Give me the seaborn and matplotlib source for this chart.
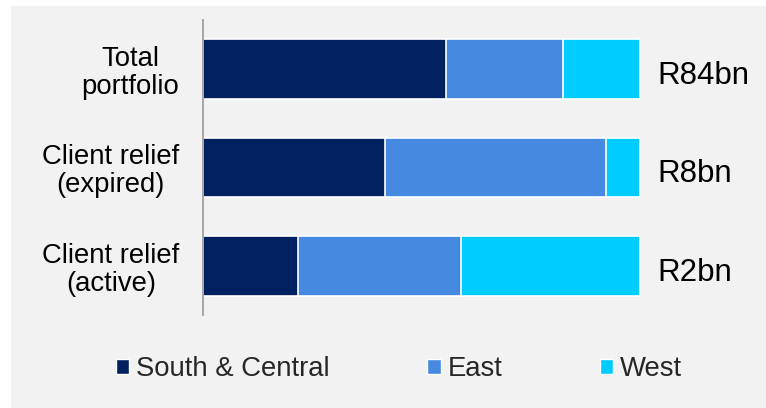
import matplotlib
matplotlib.use("Agg")
import matplotlib.pyplot as plt
from matplotlib.patches import Rectangle, Patch
import numpy as np
import pandas as pd
import seaborn as sns

# Share of each book by region (% of row total)
categories = ["Total\nportfolio", "Client relief\n(expired)", "Client relief\n(active)"]
south_central = [55.6, 41.6, 21.8]
east = [26.9, 50.6, 37.3]
west = [17.5, 7.8, 40.9]
totals = ["R84bn", "R8bn", "R2bn"]
series_names = ["South & Central", "East", "West"]
colors = ["#002060", "#4589E0", "#00CCFF"]

sns.set_theme(style="white")
plt.rcParams["font.family"] = ["Liberation Sans", "DejaVu Sans"]

panel_color = "#F2F2F2"
fig = plt.figure(figsize=(7.66, 4.08), dpi=100)
fig.patch.set_facecolor(panel_color)
# White margin along the left and top edges of the panel
for rect in [(0, 0, 11 / 766, 1), (0, 1 - 6 / 408, 1, 6 / 408)]:
    fig.patches.append(Rectangle(rect[:2], rect[2], rect[3], transform=fig.transFigure,
                                 facecolor="white", edgecolor="none", zorder=-10))

ax = fig.add_axes([203 / 766, 1 - 315 / 408, (639.7 - 203) / 766, (315 - 20) / 408])
ax.patch.set_alpha(0)

df = pd.DataFrame({"cat": categories, "s": south_central, "e": east, "w": west})
df["cum_se"] = df["s"] + df["e"]
df["cum_all"] = df["cum_se"] + df["w"]

# Stack by drawing cumulative totals from widest to narrowest
for col, color in zip(["cum_all", "cum_se", "s"], colors[::-1]):
    sns.barplot(data=df, x=col, y="cat", orient="h", color=color, width=0.61,
                edgecolor="white", linewidth=1.2, saturation=1, ax=ax)

ax.set_xlim(0, 100)
ax.set_ylim(2.5, -0.5)
ax.set_xlabel("")
ax.set_ylabel("")
ax.set_xticks([])
for s in ["top", "right", "bottom"]:
    ax.spines[s].set_visible(False)
ax.spines["left"].set_color("#A6A6A6")
ax.spines["left"].set_linewidth(1.4)
ax.tick_params(axis="y", length=0, pad=17, labelsize=19.8)
for lbl in ax.get_yticklabels():
    lbl.set_multialignment("center")
    lbl.set_linespacing(1.1)
    lbl.set_color("black")

for i, t in enumerate(totals):
    ax.text(104, i + 0.07, t, ha="left", va="center", fontsize=22.5,
            color="black", clip_on=False)

handles = [Patch(facecolor=c, edgecolor="white", linewidth=1.0) for c in colors]
fig.legend(handles, series_names, loc="center", bbox_to_anchor=(0.521, 1 - 369 / 408),
           ncol=3, frameon=False, fontsize=19.8, handlelength=0.48, handleheight=0.48,
           handletextpad=0.25, columnspacing=3.55)

fig.savefig("out.png", dpi=100, facecolor=panel_color)
